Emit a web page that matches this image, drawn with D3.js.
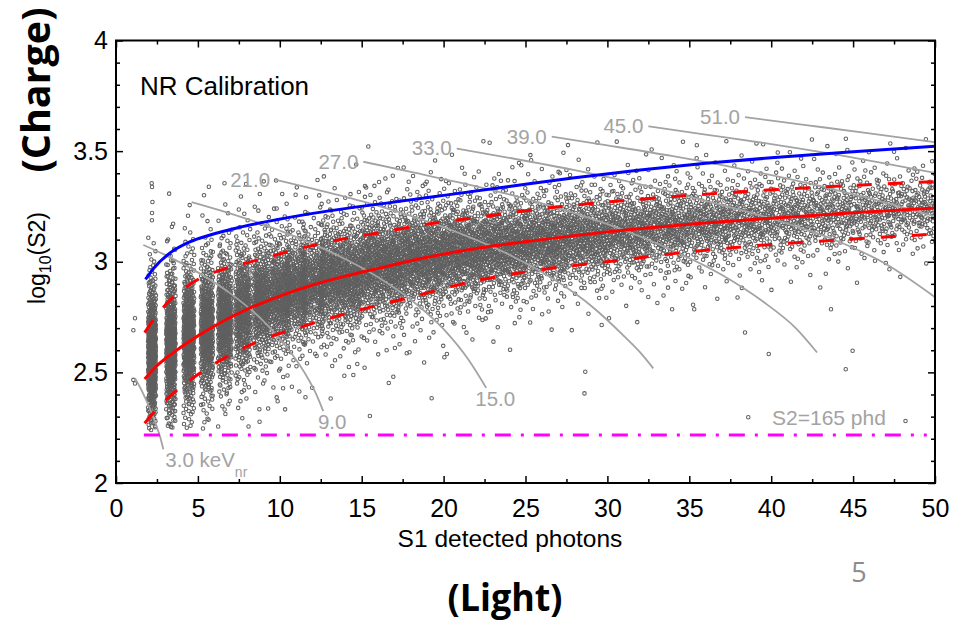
<!DOCTYPE html>
<html>
<head>
<meta charset="utf-8">
<script src="https://cdn.jsdelivr.net/npm/d3@7"></script>
<style>
  body { margin: 0; background: #fff; }
  svg { display: block; font-family: 'Liberation Sans', Arial, sans-serif; }
</style>
</head>
<body>
<svg id="chart" width="955" height="623"></svg>
<script>
// ---- 數據 ----
const xTicks = [0, 5, 10, 15, 20, 25, 30, 35, 40, 45, 50]
const xMinor = [2.5, 7.5, 12.5, 17.5, 22.5, 27.5, 32.5, 37.5, 42.5, 47.5]
const yTicks = [2, 2.5, 3, 3.5, 4]
const yMinor = [2.1, 2.2, 2.3, 2.4, 2.6, 2.7, 2.8, 2.9, 3.1, 3.2, 3.3, 3.4, 3.6, 3.7, 3.8, 3.9]

// NR band fit: mean and 10% / 90% lines
const meanS1 = [1.75, 2.5, 3.7, 5, 6.5, 8, 10, 12, 14, 16, 19, 22, 26, 30, 35, 40, 45, 50]
const meanLog = [2.47, 2.53, 2.60, 2.665, 2.73, 2.785, 2.845, 2.895, 2.935, 2.97, 3.02, 3.06, 3.1, 3.135, 3.17, 3.197, 3.222, 3.243]
const upperS1 = [1.75, 2.5, 3.5, 5, 6.5, 8.5, 11.5, 14, 16, 19, 22, 26, 30, 35, 40, 45, 50]
const upperLog = [2.68, 2.76, 2.84, 2.92, 2.965, 3.005, 3.065, 3.105, 3.13, 3.17, 3.2, 3.24, 3.27, 3.3, 3.325, 3.345, 3.362]
const lowerS1 = [1.75, 2.5, 3.5, 5, 6.5, 8.5, 11.5, 14, 18, 22, 26, 30, 35, 40, 45, 50]
const lowerLog = [2.27, 2.335, 2.405, 2.49, 2.56, 2.635, 2.71, 2.765, 2.84, 2.915, 2.965, 3.0, 3.045, 3.078, 3.103, 3.125]

// ER band (blue)
const blueS1 = [1.8, 2.3, 3.3, 4.5, 5.7, 7.5, 9.8, 13, 16.5, 20, 24, 28, 32, 36, 40, 45, 50]
const blueLog = [2.92, 2.97, 3.04, 3.09, 3.12, 3.155, 3.19, 3.23, 3.265, 3.3, 3.34, 3.38, 3.415, 3.445, 3.47, 3.497, 3.522]

// constant energy contours (keVnr)
const contourLabel = ['3.0 keV', '9.0', '15.0', '21.0', '27.0', '33.0', '39.0', '45.0', '51.0']
const contourS1 = [
    [1.16, 1.6, 2.0, 2.4, 2.7, 2.89],
    [1.67, 3, 5, 7, 9, 10.5, 11.5, 12.2, 12.65],
    [4.62, 7, 10, 13, 16, 18, 20, 21.5, 22.6],
    [9.71, 12, 15, 18, 21, 24, 27, 29, 31, 32, 32.8],
    [15.1, 18, 22, 26, 30, 34, 37, 39.5, 41.5, 42.8],
    [20.8, 24, 28, 32, 36, 40, 44, 47, 50],
    [26.6, 30, 34, 38, 42, 46, 50],
    [32.5, 36, 40, 44, 47, 50],
    [38.4, 42, 46, 50]
]
const contourLog = [
    [2.474, 2.413, 2.348, 2.272, 2.207, 2.152],
    [3.076, 3.031, 2.952, 2.856, 2.732, 2.607, 2.50, 2.405, 2.325],
    [3.270, 3.218, 3.141, 3.048, 2.930, 2.828, 2.695, 2.559, 2.43],
    [3.371, 3.331, 3.274, 3.207, 3.128, 3.032, 2.908, 2.801, 2.665, 2.59, 2.518],
    [3.452, 3.406, 3.341, 3.264, 3.170, 3.051, 2.94, 2.82, 2.70, 2.59],
    [3.512, 3.470, 3.414, 3.350, 3.275, 3.195, 3.095, 2.99, 2.84],
    [3.566, 3.526, 3.477, 3.422, 3.359, 3.286, 3.205],
    [3.612, 3.575, 3.532, 3.484, 3.444, 3.402],
    [3.654, 3.619, 3.580, 3.540]
]

// S2 threshold
const s2Threshold = 165
const thresholdS1 = [1.7, 49.5]

// low-S1 event columns (discrete S1 stripes)
const stripeS1 = [2.2, 3.35, 4.45, 5.55, 6.65, 7.75, 8.9, 10.0, 11.0, 12.0]
const stripeMean = [2.58, 2.62, 2.66, 2.70, 2.74, 2.78, 2.82, 2.85, 2.88, 2.9]
const stripeSd = [0.17, 0.17, 0.165, 0.16, 0.155, 0.15, 0.14, 0.135, 0.13, 0.125]
const stripeN = [500, 490, 470, 450, 430, 400, 370, 340, 320, 300]

// events above S1 = 12.5, in 2.5 phd bins
const binLo = [12.5, 15, 17.5, 20, 22.5, 25, 27.5, 30, 32.5, 35, 37.5, 40, 42.5, 45, 47.5]
const binMean = [2.935, 2.985, 3.02, 3.05, 3.07, 3.09, 3.115, 3.135, 3.155, 3.175, 3.19, 3.205, 3.22, 3.23, 3.24]
const binSd = [0.13, 0.13, 0.125, 0.12, 0.115, 0.11, 0.108, 0.106, 0.104, 0.1, 0.1, 0.098, 0.096, 0.094, 0.092]
const binN = [700, 660, 610, 560, 510, 460, 400, 350, 310, 270, 240, 215, 195, 180, 165]

// isolated events
const outS1 = [1.06, 1.16, 1.16, 1.06, 2.18, 2.2, 2.2, 25.3, 24.2, 27.1, 27.5, 39.1, 40.4, 44.65, 47.5, 35.45, 35.3, 38.4, 39.85, 43.65, 44.97, 44.55, 28.65, 28.6, 29.65, 33.7, 22.57, 38.6, 48.2, 19.27, 16.93, 14.49, 20.2, 17.75, 13.2, 15.5, 8.75, 9.81, 11.19, 10.2, 18.97, 15.2, 12.41, 9.81, 23.5, 8.69]
const outLog = [2.69, 2.745, 2.45, 2.466, 3.355, 3.338, 3.22, 3.482, 3.427, 3.40, 3.415, 3.535, 3.494, 3.505, 3.497, 3.468, 2.785, 2.68, 2.583, 2.785, 2.598, 2.514, 2.503, 2.405, 2.714, 2.883, 2.744, 2.297, 2.28, 2.383, 2.48, 2.488, 2.583, 2.586, 2.529, 2.303, 2.333, 2.387, 2.414, 2.428, 3.362, 3.342, 3.30, 3.241, 3.366, 3.231]

// ---- 繪圖 ----
const svg = d3.select('#chart')
const x = d3.scaleLinear().domain([0, 50]).range([116, 935])
const y = d3.scaleLinear().domain([2, 4]).range([483, 40.5])
const grey = '#a3a3a3'

svg.append('clipPath').attr('id', 'plot-clip')
    .append('rect')
    .attr('x', x(0)).attr('y', y(4))
    .attr('width', x(50) - x(0)).attr('height', y(2) - y(4))

const plot = svg.append('g').attr('clip-path', 'url(#plot-clip)')

// event cloud: spread each bin's events over its quantiles (Halton order)
const halton = (i, b) => {
    let f = 1, r = 0
    while (i > 0) { f /= b; r += f * (i % b); i = Math.floor(i / b) }
    return r
}
const logit = (p) => Math.log(p / (1 - p)) / 1.702
const floorLog = 2.235
const events = []
function spread(n, seed, mean, sd, place) {
    for (let i = 0; i < n; i++) {
        const idx = seed * 997 + i + 1
        const p = Math.min(Math.max(halton(idx, 3), 0.5 / n), 1 - 0.5 / n)
        const v = mean + sd * logit(p)
        if (v < floorLog) continue
        events.push([place(halton(idx, 2)), v])
    }
}
stripeS1.forEach((s, k) => {
    const hw = 0.24 + k * 0.045
    spread(stripeN[k], k + 1, stripeMean[k], stripeSd[k], (u) => s + hw * (2 * u - 1))
})
binLo.forEach((s, k) => {
    spread(binN[k], k + 20, binMean[k], binSd[k], (u) => s + 2.5 * u)
})
outS1.forEach((s, i) => events.push([s, outLog[i]]))

plot.append('g')
    .selectAll('circle')
    .data(events)
    .join('circle')
    .attr('cx', (d) => x(d[0]))
    .attr('cy', (d) => y(d[1]))
    .attr('r', 1.75)
    .attr('fill', 'none')
    .attr('stroke', '#5f5f5f')
    .attr('stroke-width', 1.05)

// 能量等值線
const curve = d3.line().x((d) => x(d[0])).y((d) => y(d[1])).curve(d3.curveMonotoneX)
const contours = contourS1.map((xs, k) => xs.map((v, i) => [v, contourLog[k][i]]))
plot.append('g')
    .selectAll('path')
    .data(contours)
    .join('path')
    .attr('d', curve)
    .attr('fill', 'none')
    .attr('stroke', grey)
    .attr('stroke-width', 1.8)

// threshold line
plot.append('line')
    .attr('x1', x(thresholdS1[0])).attr('x2', x(thresholdS1[1]))
    .attr('y1', y(Math.log10(s2Threshold))).attr('y2', y(Math.log10(s2Threshold)))
    .attr('stroke', '#ff00ff')
    .attr('stroke-width', 3)
    .attr('stroke-dasharray', '16,10,3,10')

// band lines
const zip = (xs, ys) => xs.map((v, i) => [v, ys[i]])
plot.append('path').datum(zip(upperS1, upperLog)).attr('d', curve)
    .attr('fill', 'none').attr('stroke', '#ff0000').attr('stroke-width', 3).attr('stroke-dasharray', '15,16')
plot.append('path').datum(zip(lowerS1, lowerLog)).attr('d', curve)
    .attr('fill', 'none').attr('stroke', '#ff0000').attr('stroke-width', 3).attr('stroke-dasharray', '15,16')
plot.append('path').datum(zip(meanS1, meanLog)).attr('d', curve)
    .attr('fill', 'none').attr('stroke', '#ff0000').attr('stroke-width', 3)
plot.append('path').datum(zip(blueS1, blueLog)).attr('d', curve)
    .attr('fill', 'none').attr('stroke', '#0000ff').attr('stroke-width', 3)

// contour labels
const labels = svg.append('g').attr('fill', grey).attr('font-size', '20.5px')
contours.forEach((c, k) => {
    if (k >= 3) {
        // label to the left of where the curve starts
        labels.append('text')
            .attr('x', x(c[0][0]) - 5).attr('y', y(c[0][1]) + 7)
            .attr('text-anchor', 'end')
            .text(contourLabel[k])
    } else {
        // label under the end of the curve
        const e = c[c.length - 1]
        const t = labels.append('text')
            .attr('x', x(e[0]) + (k === 0 ? 2 : 9)).attr('y', y(e[1]) + 18)
            .attr('text-anchor', k === 0 ? 'start' : 'middle')
            .text(contourLabel[k])
        if (k === 0) {
            t.append('tspan').attr('font-size', '14px').attr('dy', 10).text('nr')
        }
    }
})
labels.append('text')
    .attr('x', 772).attr('y', y(Math.log10(s2Threshold)) - 10)
    .attr('font-size', '21px')
    .text('S2=' + s2Threshold + ' phd')

// ---- 坐標軸 ----
const axes = svg.append('g')
axes.append('g').attr('transform', `translate(0,${y(2)})`)
    .call(d3.axisBottom(x).tickValues(xTicks).tickSize(-7).tickPadding(16).tickFormat(d3.format('d')))
axes.append('g').attr('transform', `translate(0,${y(2)})`)
    .call(d3.axisBottom(x).tickValues(xMinor).tickSize(-4).tickFormat(''))
axes.append('g').attr('transform', `translate(0,${y(4)})`)
    .call(d3.axisTop(x).tickValues(xTicks).tickSize(-7).tickFormat(''))
axes.append('g').attr('transform', `translate(0,${y(4)})`)
    .call(d3.axisTop(x).tickValues(xMinor).tickSize(-4).tickFormat(''))
axes.append('g').attr('transform', `translate(${x(0)},0)`)
    .call(d3.axisLeft(y).tickValues(yTicks).tickSize(-7).tickPadding(8).tickFormat((d) => String(d)))
axes.append('g').attr('transform', `translate(${x(0)},0)`)
    .call(d3.axisLeft(y).tickValues(yMinor).tickSize(-4).tickFormat(''))
axes.append('g').attr('transform', `translate(${x(50)},0)`)
    .call(d3.axisRight(y).tickValues(yTicks).tickSize(-7).tickFormat(''))
axes.append('g').attr('transform', `translate(${x(50)},0)`)
    .call(d3.axisRight(y).tickValues(yMinor).tickSize(-4).tickFormat(''))
axes.selectAll('.domain').remove()
axes.selectAll('.tick line').attr('stroke', '#000').attr('stroke-width', 1.5)
axes.selectAll('.tick text')
    .attr('fill', '#000')
    .style('font-family', "'Liberation Sans', Arial, sans-serif")
    .style('font-size', '25px')

svg.append('rect')
    .attr('x', x(0)).attr('y', y(4))
    .attr('width', x(50) - x(0)).attr('height', y(2) - y(4))
    .attr('fill', 'none').attr('stroke', '#000').attr('stroke-width', 2)

// 文字
svg.append('text')
    .attr('x', 140).attr('y', 95)
    .attr('font-size', '26px')
    .text('NR Calibration')

svg.append('text')
    .attr('x', 510).attr('y', 547)
    .attr('text-anchor', 'middle')
    .attr('font-size', '24.5px')
    .text('S1 detected photons')

const yl = svg.append('text')
    .attr('transform', 'translate(45,258) rotate(-90)')
    .attr('text-anchor', 'middle')
    .attr('font-size', '23px')
yl.append('tspan').text('log')
yl.append('tspan').attr('font-size', '16px').attr('dy', 6).text('10')
yl.append('tspan').attr('dy', -6).text('(S2)')

svg.append('text')
    .attr('transform', 'translate(50,90) rotate(-90)')
    .attr('text-anchor', 'middle')
    .attr('font-family', "'Open Sans', sans-serif")
    .attr('font-weight', 'bold')
    .attr('font-size', '40px')
    .attr('textLength', 165)
    .attr('lengthAdjust', 'spacingAndGlyphs')
    .text('(Charge)')

svg.append('text')
    .attr('x', 505).attr('y', 611)
    .attr('text-anchor', 'middle')
    .attr('font-family', "'Open Sans', sans-serif")
    .attr('font-weight', 'bold')
    .attr('font-size', '38px')
    .attr('textLength', 115)
    .attr('lengthAdjust', 'spacingAndGlyphs')
    .text('(Light)')

svg.append('text')
    .attr('x', 859).attr('y', 582)
    .attr('text-anchor', 'middle')
    .attr('font-family', "'Open Sans', sans-serif")
    .attr('font-size', '27px')
    .attr('fill', '#8c8c8c')
    .text('5')
</script>
</body>
</html>
